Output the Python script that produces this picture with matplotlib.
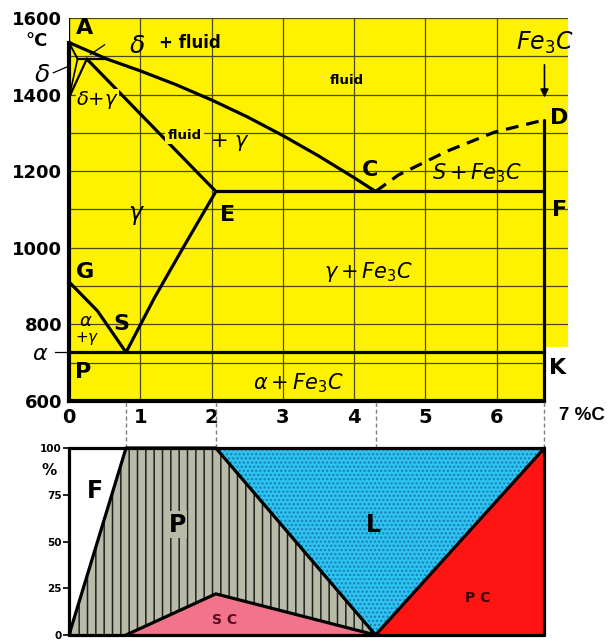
import matplotlib
matplotlib.use('Agg')
import matplotlib.pyplot as plt

plt.rcParams['font.family'] = ['DejaVu Sans']
plt.rcParams['mathtext.fontset'] = 'dejavusans'
plt.rcParams['hatch.linewidth'] = 1.1

# ---------------- Phase diagram data (wt% C, degC) ----------------
temp_ticks = [600, 800, 1000, 1200, 1400, 1600]
carbon_ticks = [0, 1, 2, 3, 4, 5, 6]
carbon_ticklabels = ['0', '1', '2', '3', '4', '5', '6']

liq_x = [0, 0.53, 1.0, 1.5, 2.0, 2.5, 3.0, 3.5, 4.0, 4.3]      # liquidus A-B-C
liq_T = [1536, 1493, 1462, 1426, 1386, 1342, 1293, 1240, 1183, 1147]
sol_x = [0.25, 2.06]                            # solidus J-E
sol_T = [1493, 1147]
cd_x = [4.3, 4.62, 5.3, 5.97, 6.67]             # liquidus C-D (dashed)
cd_T = [1147, 1190, 1252, 1302, 1334]
ecf_x = [2.06, 6.67]
ecf_T = [1147, 1147]
se_x = [0.8, 1.2, 1.6, 2.06]
se_T = [727, 870, 1000, 1147]
gs_x = [0, 0.4, 0.8]
gs_T = [911, 835, 727]
psk_x = [0, 6.67]
psk_T = [727, 727]
fe3c_x = [6.67, 6.67]
fe3c_T = [600, 1334]
peri_x = [0.12, 0.53]
peri_T = [1493, 1493]
ah_x = [0, 0.12]
ah_T = [1536, 1493]
hn_x = [0.12, 0]
hn_T = [1493, 1392]
jn_x = [0.25, 0]
jn_T = [1493, 1392]
grid_T = [700, 800, 900, 1000, 1100, 1200, 1300, 1400, 1500]
grid_x = [1, 2, 3, 4, 5, 6]

# ---------------- Structure proportions (%) ----------------
struct_x = [0, 0.8, 2.06, 4.3, 6.67]
pearlite_top = [0, 100, 100, 0]
sc_top = [0, 0, 22, 0]
ledeb_x = [2.06, 4.3, 6.67]
ledeb_bottom = [100, 0, 100]
pc_x = [4.3, 6.67]
pc_top = [0, 100]
pct_ticks = [0, 25, 50, 75, 100]

YELLOW = '#fff200'
fig = plt.figure(figsize=(6.08, 6.41), dpi=100)

W, H = 608.0, 641.0
def rect(l, t, r, b):
    return [l / W, 1 - b / H, (r - l) / W, (b - t) / H]

ax = fig.add_axes(rect(69, 18, 568, 401))
ax.set_xlim(0, 7)
ax.set_ylim(600, 1600)
for s in ax.spines.values():
    s.set_visible(False)
ax.set_facecolor('white')
# yellow background
ax.fill_between([0, 7], [740, 740], [1600, 1600], color=YELLOW, lw=0, zorder=0)
ax.fill_between([0, 6.67], [600, 600], [740, 740], color=YELLOW, lw=0, zorder=0)

gcol = '#4a4a10'
for t in grid_T:
    ax.plot([0, 7 if t > 740 else 6.67], [t, t], color=gcol, lw=0.9, zorder=1)
for g in grid_x:
    ax.plot([g, g], [600, 1600], color=gcol, lw=0.9, zorder=1)
ax.plot([0, 7], [1600, 1600], color=gcol, lw=0.9, zorder=1)
ax.plot([7, 7], [740, 1600], color='#8a8a40', lw=0.6, zorder=1)
ax.plot([0, 0], [1536, 1600], color='black', lw=1.0, zorder=2)

LW = 2.3
kw = dict(color='black', lw=LW, solid_capstyle='round', solid_joinstyle='round',
          zorder=3, clip_on=False)
ax.plot([0, 0], [600, 1536], color='black', lw=3.0, zorder=3, clip_on=False)
ax.plot([0, 6.67], [600, 600], color='black', lw=3.0, zorder=3, clip_on=False)
ax.plot(liq_x, liq_T, **kw)
ax.plot(sol_x, sol_T, **kw)
ax.plot(cd_x, cd_T, color='black', lw=LW, ls=(0, (4, 2.5)), zorder=3)
ax.plot(ecf_x, ecf_T, **kw)
ax.plot(se_x, se_T, **kw)
ax.plot(gs_x, gs_T, **kw)
ax.plot(psk_x, psk_T, **kw)
ax.plot(fe3c_x, fe3c_T, **kw)
ax.plot(peri_x, peri_T, color='black', lw=1.6, zorder=3)
ax.plot(ah_x, ah_T, color='black', lw=1.4, zorder=3)
ax.plot(hn_x, hn_T, color='black', lw=1.2, zorder=3)
ax.plot(jn_x, jn_T, color='black', lw=1.6, zorder=3)
# small leader lines
ax.plot([0.3, 0.5], [1505, 1530], color='black', lw=0.9, zorder=3)
ax.plot([-0.22, -0.03], [1457, 1472], color='black', lw=0.9, clip_on=False)
ax.plot([-0.2, -0.02], [727, 727], color='black', lw=0.9, clip_on=False)

ax.set_xticks(carbon_ticks)
ax.set_xticklabels(carbon_ticklabels, fontsize=14, fontweight='bold')
ax.set_yticks(temp_ticks)
ax.set_yticklabels([str(t) for t in temp_ticks], fontsize=13, fontweight='bold')
ax.tick_params(length=0, pad=5)
ax.text(6.88, 562, '7 %C', ha='left', va='center', fontsize=13.5, fontweight='bold',
        family=['Liberation Sans'], clip_on=False)

bold = dict(fontweight='bold', fontsize=16, ha='center', va='center', zorder=5)
ax.text(0.22, 1574, 'A', **bold)
ax.text(4.23, 1203, 'C', **bold)
ax.text(6.88, 1339, 'D', clip_on=False, **bold)
ax.text(2.22, 1086, 'E', **bold)
ax.text(6.88, 1099, 'F', clip_on=False, **bold)
ax.text(0.22, 937, 'G', **bold)
ax.text(0.74, 800, 'S', **bold)
ax.text(0.2, 676, 'P', **bold)
ax.text(6.85, 686, 'K', clip_on=False, **bold)

it = dict(fontsize=15, ha='center', va='center', zorder=5)
ax.text(0.95, 1528, r'$\delta$', fontsize=18, ha='center', va='center')
ax.text(1.7, 1536, '+ fluid', fontsize=12, fontweight='bold', ha='center', va='center')
ax.text(3.9, 1438, 'fluid', fontsize=9.5, fontweight='bold', ha='center', va='center')
ax.text(1.62, 1292, 'fluid', fontsize=9.5, fontweight='bold', ha='center', va='center',
        bbox=dict(boxstyle='square,pad=0.15', fc=YELLOW, ec='none'), zorder=4)
ax.text(2.25, 1276, r'+ $\gamma$', **it)
ax.text(0.4, 1386, r'$\delta$+$\gamma$', fontsize=14, ha='center', va='center',
        bbox=dict(boxstyle='square,pad=0.0', fc=YELLOW, ec='none'), zorder=4)
ax.text(-0.38, 1450, r'$\delta$', fontsize=18, ha='center', va='center', clip_on=False)
ax.text(-0.45, 1540, '°C', fontsize=13, fontweight='bold', ha='center', va='center')
ax.text(5.73, 1195, r'$S + Fe_3C$', **it)
ax.text(6.67, 1535, r'$Fe_3C$', fontsize=17, ha='center', va='center')
ax.annotate('', xy=(6.67, 1385), xytext=(6.67, 1485),
            arrowprops=dict(arrowstyle='-|>', color='black', lw=1.2, mutation_scale=12))
ax.text(0.95, 1086, r'$\gamma$', fontsize=17, ha='center', va='center')
ax.text(4.2, 937, r'$\gamma + Fe_3C$', **it)
ax.text(0.24, 808, r'$\alpha$', fontsize=13, ha='center', va='center')
ax.text(0.26, 762, r'+$\gamma$', fontsize=11, ha='center', va='center')
ax.text(-0.4, 722, r'$\alpha$', fontsize=16, ha='center', va='center', clip_on=False)
ax.text(3.22, 647, r'$\alpha + Fe_3C$', **it)

# ---------------- Bottom chart ----------------
bx = fig.add_axes(rect(69, 448, 568, 635))
bx.set_xlim(0, 7)
bx.set_ylim(0, 100)
for s in bx.spines.values():
    s.set_visible(False)

bx.fill_between(struct_x[:2], pearlite_top[:2], [100, 100], color='white', lw=0, zorder=1)
bx.fill_between(struct_x[:4], sc_top, pearlite_top, facecolor='#b9bba9', edgecolor='#202020',
                hatch='||', lw=0, zorder=1)
bx.fill_between(struct_x[:4], [0, 0, 0, 0], sc_top, color='#f2748a', lw=0, zorder=2)
bx.fill_between(ledeb_x, ledeb_bottom, [100, 100, 100], facecolor='#2ec3f0',
                edgecolor='#1a7fb5', hatch='....', lw=0, zorder=1)
bx.fill_between(pc_x, [0, 0], pc_top, color='#ff1414', lw=0, zorder=1)

bkw = dict(color='black', lw=2.3, zorder=4, clip_on=False, solid_capstyle='round')
bx.plot(struct_x[:4], pearlite_top, **bkw)
bx.plot(struct_x[1:4], sc_top[1:], **bkw)
bx.plot(pc_x, pc_top, **bkw)
bx.plot([0, 6.67], [100, 100], **bkw)
bx.plot([0, 6.67], [0, 0], **bkw)
bx.plot([0, 0], [0, 100], **bkw)
bx.plot([6.67, 6.67], [0, 100], **bkw)

for cx in struct_x[1:]:
    bx.plot([cx, cx], [100, 125], color='#808080', lw=1.0, ls=(0, (3, 2)),
            clip_on=False, zorder=0)

bx.set_xticks([])
bx.set_yticks(pct_ticks)
bx.set_yticklabels([str(p) for p in pct_ticks], fontsize=7.5, fontweight='bold')
bx.tick_params(axis='y', length=4, width=1.2, pad=1)
bx.text(-0.28, 88, '%', fontsize=11, fontweight='bold', ha='center', va='center')

bx.text(0.36, 77, 'F', fontsize=17, fontweight='bold', ha='center', va='center', zorder=5)
bx.text(1.52, 59, 'P', fontsize=17, fontweight='bold', ha='center', va='center', zorder=5,
        bbox=dict(boxstyle='square,pad=0.05', fc='#b9bba9', ec='none'))
bx.text(4.27, 59, 'L', fontsize=17, fontweight='bold', ha='center', va='center', zorder=5)
bx.text(2.18, 8, 'S C', fontsize=10, fontweight='bold', ha='center', va='center',
        color='#5a0a20', zorder=5)
bx.text(5.73, 20, 'P C', fontsize=10, fontweight='bold', ha='center', va='center',
        color='#3a0000', zorder=5)

fig.savefig('out.png', dpi=100)
